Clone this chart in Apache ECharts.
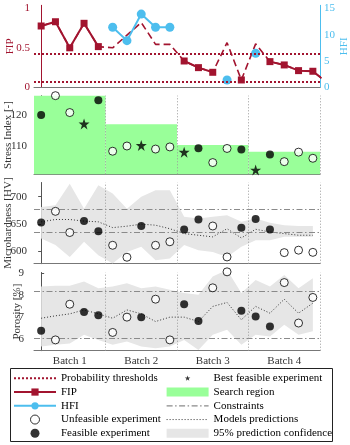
<!DOCTYPE html>
<html><head><meta charset="utf-8">
<script src="https://cdn.jsdelivr.net/npm/echarts@6/dist/echarts.min.js"></script>
<style>html,body{margin:0;padding:0;background:#fff}#c{width:350px;height:445px}</style>
</head><body><div id="c"></div>
<script>
// ---------- data ----------
const batchLabels = ['Batch 1', 'Batch 2', 'Batch 3', 'Batch 4'];
const batchCenters = [2, 7, 12, 17];
const batchBounds = [4.5, 9.5, 14.5, 19.5];

const fip = [0.776, 0.83, 0.50, 0.81, 0.515, 0.50, 0.66, 0.82, 0.544, 0.544,
             0.333, 0.249, 0.19, 0.565, 0.093, 0.55, 0.325, 0.283, 0.211, 0.203, 0.06];
const fipMeasured = [1, 1, 1, 1, 1, 0, 0, 0, 0, 0, 1, 1, 1, 0, 1, 0, 1, 1, 1, 1, 1];
const hfi = [null, null, null, null, null, 11.4, 8.86, 13.9, 11.4, 11.4,
             null, null, null, 1.39, null, 6.46, null, null, null, null];
const thresholds = [0.42, 0.07];

const feasible = [1, 0, 0, 1, 1, 0, 0, 1, 0, 0, 1, 1, 0, 0, 1, 1, 1, 0, 0, 0];
const bestIdx = [3, 7, 10, 15];

const stress = [120.0, 126.3, 120.8, 117.1, 124.8, 108.2, 109.9, 110.1, 108.9, 109.6,
                107.9, 109.2, 104.5, 109.1, 108.8, 102.1, 107.1, 104.8, 107.9, 105.9];
const searchUpper = [126.3, 117.0, 110.2, 108.0];

const micro = [652.5, 673, 634, 655, 636.5, 610.5, 588.5, 646, 610.5, 617,
               639.6, 658, 646, 589, 642.7, 659, 639.6, 597, 601.5, 597.5];
const microPred = [653.7, 658, 658, 655, 653.7, 643, 645.7, 649.4, 647.5, 641,
                   632, 629, 626, 641, 624, 640, 635, 632, 629, 629];
const microUpper = [681, 684, 724, 678, 721, 706, 678, 700, 712, 712,
                    663, 660, 663, 666, 654, 660, 652, 647.5, 646, 646];
const microLower = [623, 611, 589, 617, 592, 577, 598, 608, 583, 586,
                    611, 601.5, 598, 589, 607.6, 620, 620, 626, 626, 626];
const microConstraints = [676, 635];

const poro = [6.38, 5.96, 7.59, 7.24, 7.09, 6.30, 7.0, 7.0, 7.82, 5.96,
              7.59, 6.82, 8.34, 9.07, 7.29, 7.03, 6.57, 8.58, 6.73, 7.90];
const poroPred = [6.95, 7.06, 7.15, 7.33, 7.15, 6.95, 7.33, 7.15, 6.8, 7.0,
                  7.0, 6.8, 7.49, 7.67, 6.88, 7.49, 7.18, 7.82, 7.18, 7.64];
const poroUpper = [8.40, 8.43, 8.43, 8.63, 8.32, 8.40, 8.55, 8.32, 8.40, 8.25,
                   8.10, 8.02, 8.86, 9.16, 8.10, 8.70, 8.40, 8.93, 8.32, 8.78];
const poroLower = [5.66, 5.74, 5.80, 6.19, 5.96, 5.74, 5.89, 5.66, 5.58, 5.66,
                   5.96, 5.50, 6.19, 6.42, 5.74, 6.19, 6.12, 6.65, 6.19, 6.35];
const poroConstraints = [8.2, 6.04];

// ---------- styles ----------
const FONT = 'Liberation Serif';
const RED = '#A2142F', BLUE = '#4DBEEE', GREEN = '#99FF99', BAND = '#E6E6E6';
const CONS = '#8a8a8a', AXIS = '#555', TXT = '#333';
const STAR = 'path://M50,0 L61.8,35.3 L99,35.3 L69,57.1 L80.3,92.7 L50,70.9 L19.7,92.7 L31,57.1 L1,35.3 L38.2,35.3 Z';
const STAR_SMALL = 'path://M0,0L0,0.01L0.01,0Z M160,160L160,160.01L159.99,160Z M80,30 L91.8,65.3 L129,65.3 L99,87.1 L110.3,122.7 L80,100.9 L49.7,122.7 L61,87.1 L31,65.3 L68.2,65.3 Z';

const pairs = (arr) => arr.map((v, i) => [i, v == null ? '-' : v]);
const pick = (arr, f) => arr.map((v, i) => [i, v]).filter((d, i) => f(i));
const vLines = batchBounds.map(x => ({ xAxis: x, lineStyle: { color: '#9a9a9a', type: [1, 2], width: 1 } }));

const gridL = 34, gridW = 286;
const grids = [
  { left: gridL, width: gridW, top: 5.3, height: 82 },
  { left: gridL, width: gridW, top: 95.7, height: 78.6 },
  { left: gridL, width: gridW, top: 182.5, height: 81.2 },
  { left: gridL, width: gridW, top: 272.5, height: 78.2 }
].map(g => Object.assign(g, { outerBoundsMode: 'none', containLabel: false }));

const xAxes = grids.map((g, k) => ({
  type: 'value', gridIndex: k, min: -0.5, max: 19.5,
  axisLine: { show: true, lineStyle: { color: '#777', width: 1 } },
  axisTick: { show: false }, splitLine: { show: false },
  axisLabel: k === 3 ? {
    customValues: batchCenters, margin: 5,
    formatter: v => batchLabels[batchCenters.indexOf(v)],
    fontFamily: FONT, fontSize: 11, color: TXT
  } : { show: false }
}));

function yAx(grid, min, max, ticks, name, color, gap, margin, tick, pos) {
  return {
    type: 'value', gridIndex: grid, min, max, position: pos || 'left',
    name, nameLocation: 'middle', nameGap: gap, nameMoveOverlap: false,
    nameTextStyle: { fontFamily: FONT, fontSize: 11, color },
    axisLine: { show: true, lineStyle: { color: color === TXT ? AXIS : color, width: 1 } },
    axisTick: tick ? { show: true, customValues: ticks, inside: tick === 'in', length: 3,
      lineStyle: { color: AXIS, width: 1 } } : { show: false },
    splitLine: { show: false },
    axisLabel: { customValues: ticks, margin, fontFamily: FONT, fontSize: 11, color }
  };
}
const yAxes = [
  yAx(0, 0, 1.038, [0, 0.5, 1], 'FIP', RED, 18.5, 4, null),
  yAx(0, 0, 15.57, [0, 5, 10, 15], 'HFI', BLUE, 18.5, 4, null, 'right'),
  yAx(1, 100.68, 126.29, [110, 120], 'Stress Index [-]', TXT, 20.5, 7, 'out'),
  yAx(2, 576.6, 726.1, [600, 650, 700], 'Microhardness [HV]', TXT, 20.5, 7, 'out'),
  yAx(3, 5.466, 9.04, [6, 7, 8, 9], 'Porosity [%]', TXT, 11, 10, 'in')
];

const openStyle = { color: '#fff', borderColor: '#000', borderWidth: 1 };
const fillStyle = { color: '#000' };

function bandSeries(xi, yi, upper, lower) {
  return {
    name: '95% prediction confidence', type: 'custom', xAxisIndex: xi, yAxisIndex: yi,
    data: upper.map((u, i) => [i, u, lower[i]]), encode: { x: 0, y: [1, 2] },
    clip: true, silent: true, z: 1, itemStyle: { color: BAND },
    renderItem: (params, api) => {
      if (params.dataIndex !== 0) return;
      const pts = [];
      for (let i = 0; i < upper.length; i++) pts.push(api.coord([i, upper[i]]));
      for (let i = lower.length - 1; i >= 0; i--) pts.push(api.coord([i, lower[i]]));
      return { type: 'polygon', shape: { points: pts }, style: { fill: BAND } };
    }
  };
}

function panelSeries(xi, yi, vals, pred, upper, lower, cons) {
  return [
    bandSeries(xi, yi, upper, lower),
    { name: 'Constraints', type: 'line', xAxisIndex: xi, yAxisIndex: yi, data: [], symbol: 'none',
      lineStyle: { color: CONS, width: 1.2, type: [6, 2.5, 1.5, 2.5] }, itemStyle: { color: CONS }, z: 2,
      markLine: { silent: true, symbol: 'none', label: { show: false }, animation: false,
        lineStyle: { color: CONS, width: 1.2, type: [6, 2.5, 1.5, 2.5] },
        data: cons.map(v => ({ yAxis: v })).concat(vLines) } },
    { name: 'Models predictions', type: 'line', xAxisIndex: xi, yAxisIndex: yi, data: pairs(pred),
      symbol: 'none', lineStyle: { color: '#333', width: 1, type: [1, 2] }, itemStyle: { color: '#333' }, z: 3 },
    { name: 'Unfeasible experiment', type: 'scatter', xAxisIndex: xi, yAxisIndex: yi,
      data: pick(vals, i => !feasible[i]), symbol: 'circle', symbolSize: 8, itemStyle: openStyle, clip: false, z: 5 },
    { name: 'Feasible experiment', type: 'scatter', xAxisIndex: xi, yAxisIndex: yi,
      data: pick(vals, i => feasible[i]), symbol: 'circle', symbolSize: 8, itemStyle: fillStyle, clip: false, z: 5 }
  ];
}

const series = [
  { name: 'Probability thresholds', type: 'line', xAxisIndex: 0, yAxisIndex: 0, data: [], symbol: 'none',
    lineStyle: { color: RED, width: 2, type: 'dotted' }, itemStyle: { color: RED },
    markLine: { silent: true, symbol: 'none', label: { show: false }, animation: false,
      lineStyle: { color: RED, width: 2, type: 'dotted' }, data: thresholds.map(v => ({ yAxis: v })) } },
  { name: 'FIP-path', type: 'line', xAxisIndex: 0, yAxisIndex: 0, data: pairs(fip), symbol: 'none',
    lineStyle: { color: RED, width: 1.6, type: [7, 4] }, z: 2 },
  { name: 'FIP', type: 'line', xAxisIndex: 0, yAxisIndex: 0,
    data: fip.map((v, i) => [i, fipMeasured[i] ? v : '-']), symbol: 'rect', symbolSize: 7, showAllSymbol: true,
    lineStyle: { color: RED, width: 2 }, itemStyle: { color: RED }, z: 3 },
  { name: 'HFI', type: 'line', xAxisIndex: 0, yAxisIndex: 1, data: pairs(hfi), symbol: 'circle', symbolSize: 9,
    showAllSymbol: true, lineStyle: { color: BLUE, width: 2 }, itemStyle: { color: BLUE }, z: 4 },

  { name: 'Search region', type: 'bar', xAxisIndex: 1, yAxisIndex: 2,
    data: searchUpper.map((v, b) => [batchCenters[b], v]), barWidth: gridW / 4, itemStyle: { color: GREEN }, z: 1,
    markLine: { silent: true, symbol: 'none', label: { show: false }, animation: false, data: vLines } },
  { name: 'Unfeasible experiment', type: 'scatter', xAxisIndex: 1, yAxisIndex: 2,
    data: pick(stress, i => !feasible[i]), symbol: 'circle', symbolSize: 8, itemStyle: openStyle, clip: false, z: 5 },
  { name: 'Feasible experiment', type: 'scatter', xAxisIndex: 1, yAxisIndex: 2,
    data: pick(stress, i => feasible[i] && bestIdx.indexOf(i) < 0), symbol: 'circle', symbolSize: 8,
    itemStyle: fillStyle, clip: false, z: 5 },
  { name: 'Best feasible experiment', type: 'scatter', xAxisIndex: 1, yAxisIndex: 2,
    data: pick(stress, i => bestIdx.indexOf(i) >= 0), symbol: STAR, symbolSize: 11,
    itemStyle: { color: '#000' }, clip: false, z: 5 },

  ...panelSeries(2, 3, micro, microPred, microUpper, microLower, microConstraints),
  ...panelSeries(3, 4, poro, poroPred, poroUpper, poroLower, poroConstraints)
];

const legTxt = { fontFamily: FONT, fontSize: 11, color: '#000', lineHeight: 13 };
const legendBase = { orient: 'vertical', top: 371.8, itemWidth: 42, itemHeight: 9, itemGap: 0.75,
  textStyle: legTxt, selectedMode: false, padding: 0 };
const hideSym = { opacity: 0 };

const option = {
  animation: false,
  backgroundColor: '#fff',
  grid: grids,
  xAxis: xAxes,
  yAxis: yAxes,
  legend: [
    Object.assign({}, legendBase, { left: 13, data: [
      { name: 'Probability thresholds', itemStyle: hideSym },
      { name: 'FIP' },
      { name: 'HFI' },
      { name: 'Unfeasible experiment', itemStyle: { borderWidth: 1 } },
      { name: 'Feasible experiment' }
    ] }),
    Object.assign({}, legendBase, { left: 166, data: [
      { name: 'Best feasible experiment', icon: STAR_SMALL },
      { name: 'Search region', icon: 'rect' },
      { name: 'Constraints', itemStyle: hideSym, lineStyle: { width: 1.2 } },
      { name: 'Models predictions', itemStyle: hideSym, lineStyle: { width: 1 } },
      { name: '95% prediction confidence', icon: 'rect', itemStyle: { color: BAND } }
    ] })
  ],
  graphic: [{ type: 'rect', silent: true, shape: { x: 10.5, y: 368.5, width: 322, height: 73 },
    style: { fill: 'none', stroke: '#222', lineWidth: 1 } }],
  series
};

echarts.init(document.getElementById('c'), null, { renderer: 'canvas' }).setOption(option);
</script></body></html>
